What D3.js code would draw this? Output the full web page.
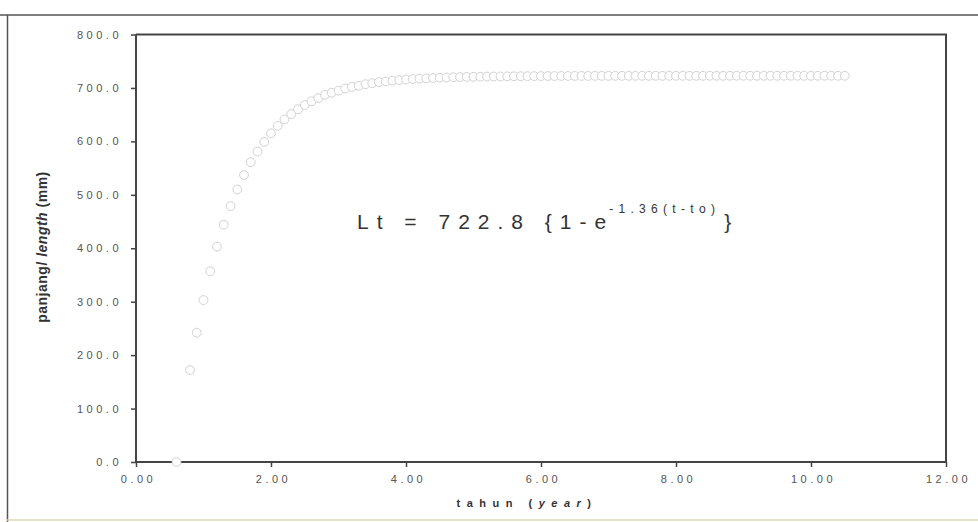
<!DOCTYPE html>
<html>
<head>
<meta charset="utf-8">
<script src="https://cdn.jsdelivr.net/npm/d3@7"></script>
<style>
  html, body { margin: 0; padding: 0; background: #fff; }
  svg { display: block; }
</style>
</head>
<body>
<svg id="chart" width="978" height="522"></svg>
<script>
// ---- data ----
const years = [
  0.6,
  0.8, 0.9,
  1.0, 1.1, 1.2, 1.3, 1.4, 1.5, 1.6, 1.7, 1.8, 1.9,
  2.0, 2.1, 2.2, 2.3, 2.4, 2.5, 2.6, 2.7, 2.8, 2.9,
  3.0, 3.1, 3.2, 3.3, 3.4, 3.5, 3.6, 3.7, 3.8, 3.9,
  4.0, 4.1, 4.2, 4.3, 4.4, 4.5, 4.6, 4.7, 4.8, 4.9,
  5.0, 5.1, 5.2, 5.3, 5.4, 5.5, 5.6, 5.7, 5.8, 5.9,
  6.0, 6.1, 6.2, 6.3, 6.4, 6.5, 6.6, 6.7, 6.8, 6.9,
  7.0, 7.1, 7.2, 7.3, 7.4, 7.5, 7.6, 7.7, 7.8, 7.9,
  8.0, 8.1, 8.2, 8.3, 8.4, 8.5, 8.6, 8.7, 8.8, 8.9,
  9.0, 9.1, 9.2, 9.3, 9.4, 9.5, 9.6, 9.7, 9.8, 9.9,
  10.0, 10.1, 10.2, 10.3, 10.4, 10.5
];
const lengths = [
  0,
  172, 242,
  303, 357, 403, 444, 479, 510, 537, 561, 581, 599,
  615, 629, 641, 651, 660, 668, 675, 681, 687, 691,
  695, 699, 702, 704, 707, 709, 711, 712, 713.5, 714.6,
  715.7, 716.6, 717.4, 718, 718.7, 719.1, 719.6, 720, 720.3, 720.6,
  720.8, 721, 721.2, 721.4, 721.5, 721.7, 721.8, 721.9, 722, 722.1,
  722.2, 722.3, 722.3, 722.4, 722.4, 722.5, 722.5, 722.5, 722.6, 722.6,
  722.6, 722.6, 722.7, 722.7, 722.7, 722.7, 722.7, 722.7, 722.7, 722.7,
  722.7, 722.7, 722.7, 722.7, 722.7, 722.8, 722.8, 722.8, 722.8, 722.8,
  722.8, 722.8, 722.8, 722.8, 722.8, 722.8, 722.8, 722.8, 722.8, 722.8,
  722.8, 722.8, 722.8, 722.8, 722.8, 722.8
];
const xTicks = [0, 2, 4, 6, 8, 10, 12];
const yTicks = [0, 100, 200, 300, 400, 500, 600, 700, 800];
const xTitle = ["tahun (", "year", ")"];
const yTitle = ["panjang/ ", "length", " (mm)"];

// ---- layout ----
const svg = d3.select("#chart");
const pLeft = 136, pRight = 946, pTop = 34.5, pBottom = 462;
const FONT = "Arial, 'Liberation Sans', sans-serif";

const x = d3.scaleLinear().domain([0, 12]).range([pLeft, pRight]);
const y = d3.scaleLinear().domain([0, 800]).range([pBottom, pTop]);

// outer page frame (scan)
svg.append("line").attr("x1", 0).attr("x2", 978).attr("y1", 15).attr("y2", 15)
  .attr("stroke", "#555").attr("stroke-width", 1.5);
svg.append("line").attr("x1", 7.5).attr("x2", 7.5).attr("y1", 15).attr("y2", 522)
  .attr("stroke", "#555").attr("stroke-width", 1.5);
svg.append("line").attr("x1", 7).attr("x2", 978).attr("y1", 520).attr("y2", 520)
  .attr("stroke", "#e0d8b8").attr("stroke-width", 1.5);

// plot frame (top and right)
svg.append("path")
  .attr("d", `M${pLeft},${pTop}H${pRight}V${pBottom}`)
  .attr("fill", "none").attr("stroke", "#444").attr("stroke-width", 2);

// axes
const yAxis = d3.axisLeft(y).tickValues(yTicks).tickFormat(d3.format(".1f"))
  .tickSize(5).tickPadding(9);
const gy = svg.append("g").attr("transform", `translate(${pLeft},0)`).call(yAxis);
const xAxis = d3.axisBottom(x).tickValues(xTicks).tickFormat(d3.format(".2f"))
  .tickSize(5).tickPadding(8);
const gx = svg.append("g").attr("transform", `translate(0,${pBottom})`).call(xAxis);

[gx, gy].forEach(g => {
  g.select(".domain").attr("stroke", "#444").attr("stroke-width", 2);
  g.selectAll(".tick line").attr("stroke", "#444").attr("stroke-width", 1.5);
  g.selectAll(".tick text")
    .attr("fill", "#555")
    .style("font-family", FONT)
    .style("font-size", "11px")
    .style("letter-spacing", "3.5px");
});
gy.select(".domain").attr("d", `M0,${pTop}V${pBottom}`);
gx.select(".domain").attr("d", `M${pLeft},0H${pRight}`);
gx.selectAll(".tick text").attr("dx", "2px");

// data points: open circles, white fill
svg.append("g").selectAll("circle")
  .data(years.map((t, i) => ({ t, v: lengths[i] })))
  .join("circle")
  .attr("cx", d => x(d.t))
  .attr("cy", d => y(d.v))
  .attr("r", 4.4)
  .attr("fill", "#fff")
  .attr("stroke", "#d2d2d2")
  .attr("stroke-width", 1);

// axis titles
const xt = svg.append("text")
  .attr("x", 527).attr("y", 507)
  .attr("text-anchor", "middle")
  .attr("fill", "#333")
  .style("font-family", FONT).style("font-size", "11px")
  .style("font-weight", "bold").style("letter-spacing", "6.5px");
xt.selectAll("tspan").data(xTitle).join("tspan")
  .style("font-style", (d, i) => i === 1 ? "italic" : "normal")
  .text(d => d);

const yt = svg.append("text")
  .attr("transform", "translate(47,247) rotate(-90)")
  .attr("text-anchor", "middle")
  .attr("fill", "#333")
  .style("font-family", FONT).style("font-size", "14px")
  .style("font-weight", "bold").style("letter-spacing", "0.5px");
yt.selectAll("tspan").data(yTitle).join("tspan")
  .style("font-style", (d, i) => i === 1 ? "italic" : "normal")
  .text(d => d);

// equation annotation
const eq = svg.append("text")
  .attr("x", 357).attr("y", 229)
  .attr("fill", "#333")
  .style("font-family", FONT).style("font-size", "21px");
eq.append("tspan").style("letter-spacing", "8px").text("Lt = 722.8 {1-e");
eq.append("tspan").attr("dy", -16).attr("dx", -5).style("font-size", "12px")
  .style("letter-spacing", "5.3px").text("-1.36(t-to)");
eq.append("tspan").attr("dy", 16).attr("dx", 4)
  .style("letter-spacing", "0px").text("}");
</script>
</body>
</html>
